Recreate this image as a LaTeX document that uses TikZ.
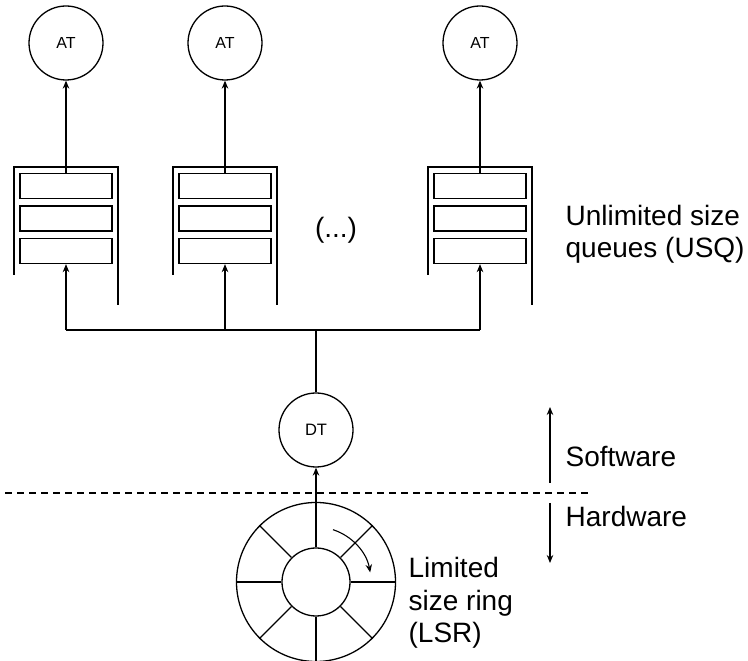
\documentclass[tikz,border=0pt]{standalone}
\usepackage{fontspec}
\setmainfont{Liberation Sans}
\usetikzlibrary{arrows.meta}
\begin{document}
\begin{tikzpicture}[x=1pt,y=1pt,
  line width=1.3pt,
  >={Stealth[length=8pt,width=6.5pt]},
  thread/.style={circle,draw,minimum size=74pt,inner sep=0pt,font=\fontsize{16}{18}\selectfont},
  slot/.style={draw,minimum width=92pt,minimum height=25pt,inner sep=0pt},
  bigtext/.style={font=\fontsize{28}{32.5}\selectfont,align=left,inner sep=0pt},
]
\useasboundingbox (0,0) rectangle (748,661);

% application threads
\node[thread] (at1) at (66,618) {AT};
\node[thread] (at2) at (225,618) {AT};
\node[thread] (at3) at (480,618) {AT};

% unlimited size queues: three slots inside an open frame
\foreach \q/\x in {1/66,2/225,3/480}{
  \node[slot] (q\q a) at (\x,475) {};
  \node[slot] (q\q b) at (\x,442.5) {};
  \node[slot] (q\q c) at (\x,410) {};
  \draw (\x-52,386) -- (\x-52,494) -- (\x+52,494) -- (\x+52,356);
  \draw[->] (q\q a.north) -- (at\q.south);
  \coordinate (b\q) at (\x,331);
  \draw[->] (b\q) -- (q\q c.south);
}
\node[bigtext] (dots) at (336,431) {(...)};
\node[bigtext,anchor=base west] (usq) at (565,403) {Unlimited size\\queues (USQ)};

% dispatcher thread and fan-out bus
\node[thread,font=\fontsize{16.5}{18}\selectfont] (dt) at (316,231) {DT};
\coordinate (bus) at (316,331);
\draw (b1) -- (b3);
\draw (dt.north) -- (bus);

% software / hardware boundary
\coordinate (dl) at (5,168);
\coordinate (dr) at (592,168);
\draw[line width=1.1pt,dash pattern=on 7pt off 5pt] (dl) -- (dr);
\coordinate (sw0) at (550,178);
\coordinate (sw1) at (550,254);
\coordinate (hw0) at (550,158);
\coordinate (hw1) at (550,98);
\draw[->] (sw0) -- (sw1);
\draw[->] (hw0) -- (hw1);
\node[bigtext,anchor=base west] (sw) at (565,194) {Software};
\node[bigtext,anchor=base west] (hw) at (565,134) {Hardware};

% limited size ring
\node[circle,draw,minimum size=159pt,inner sep=0pt] (ring) at (316,79) {};
\node[circle,draw,minimum size=68pt,inner sep=0pt] (hub) at (316,79) {};
\foreach \a in {0,45,135,180,225,270,315}
  \draw (hub.\a) -- (ring.\a);
\draw[->] (hub.north) -- (dt.south);
\draw[->,line width=1.1pt] (ring.center) ++(72:55) arc[start angle=72,end angle=10,radius=55];
\node[bigtext,anchor=base west] (lsr) at (408,18) {Limited\\size ring\\(LSR)};
\end{tikzpicture}
\end{document}
